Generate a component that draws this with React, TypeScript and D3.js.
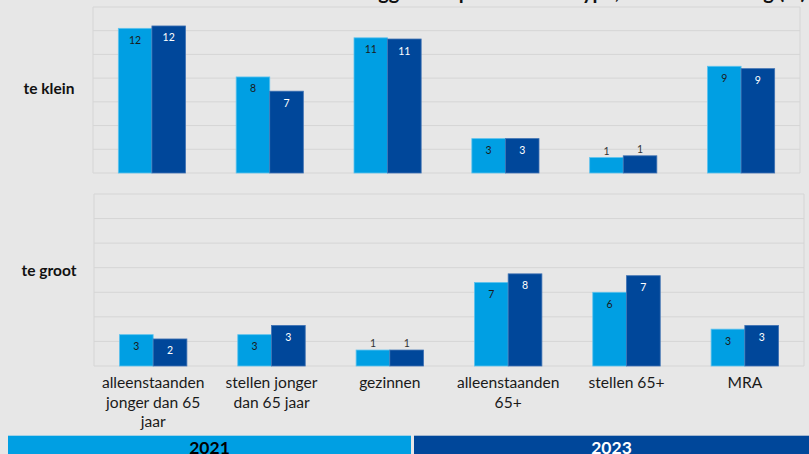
import React from "react";
import * as d3 from "d3";

// ---- data ----
const categories = [
  "alleenstaanden\njonger dan 65\njaar",
  "stellen jonger\ndan 65 jaar",
  "gezinnen",
  "alleenstaanden\n65+",
  "stellen 65+",
  "MRA",
];
const years = ["2021", "2023"];
const teKlein2021 = [12.2, 8.1, 11.4, 2.9, 1.3, 9.0];
const teKlein2023 = [12.4, 6.9, 11.3, 2.9, 1.45, 8.8];
const teGroot2021 = [2.55, 2.55, 1.3, 6.8, 6.0, 3.0];
const teGroot2023 = [2.2, 3.3, 1.3, 7.5, 7.35, 3.3];
const yTicks = [0, 2, 4, 6, 8, 10, 12, 14];
const panelLabels = ["te klein", "te groot"];
const title = "Oordeel over woninggrootte per huishoudtype, naar beoordeling (%)";

const W = 809;
const H = 454;
const LIGHT = "#009FE3";
const DARK = "#00479A";
const BG = "#E7E7E7";
const GRID = "#D5D5D5";
const FONT = "Lato, 'Open Sans', sans-serif";
const colors = [LIGHT, DARK];
const strokes = ["#5EC3EE", "#3F72B3"];

type Panel = {
  label: string;
  s2021: number[];
  s2023: number[];
  x0: number;
  x1: number;
  top: number;
  bottom: number;
  labelY: number;
};

const panels: Panel[] = [
  { label: panelLabels[0], s2021: teKlein2021, s2023: teKlein2023, x0: 93, x1: 800, top: 7, bottom: 173, labelY: 94 },
  { label: panelLabels[1], s2021: teGroot2021, s2023: teGroot2023, x0: 94, x1: 804, top: 194, bottom: 366, labelY: 276 },
];

function PanelView({ p }: { p: Panel }) {
  const x = d3.scaleBand<string>().domain(categories).range([p.x0, p.x1]).padding(0);
  const y = d3.scaleLinear().domain([0, 14]).range([p.bottom, p.top]);
  const pairW = x.bandwidth() * 0.57;
  const xs = d3
    .scaleBand<string>()
    .domain(years)
    .range([(x.bandwidth() - pairW) / 2, (x.bandwidth() + pairW) / 2])
    .padding(0);
  const series = [p.s2021, p.s2023];
  return (
    <g>
      {yTicks.map((t) => (
        <line key={t} x1={p.x0} x2={p.x1} y1={y(t)} y2={y(t)} stroke={GRID} strokeWidth={1} />
      ))}
      <line x1={p.x0} x2={p.x0} y1={p.top} y2={p.bottom} stroke={GRID} />
      <line x1={p.x1} x2={p.x1} y1={p.top} y2={p.bottom} stroke={GRID} />
      {categories.map((c, i) =>
        years.map((yr, k) => {
          const v = series[k][i];
          const bx = (x(c) as number) + (xs(yr) as number);
          const bw = xs.bandwidth();
          const top = y(v);
          const h = y(0) - top;
          const inside = h >= 20;
          return (
            <g key={c + yr}>
              <rect x={bx} y={top} width={bw} height={h} fill={colors[k]} stroke={strokes[k]} strokeWidth={0.8} />
              <text
                x={bx + bw / 2}
                y={inside ? top + 15.5 : top - 3}
                textAnchor="middle"
                fontFamily={FONT}
                fontSize={10.5}
                fill={inside ? (k === 0 ? "#1A1A1A" : "#FFFFFF") : "#333333"}
              >
                {d3.format(".0f")(Math.round(v))}
              </text>
            </g>
          );
        })
      )}
      <text x={49} y={p.labelY} textAnchor="middle" fontFamily={FONT} fontWeight={700} fontSize={15.5} fill="#111">
        {p.label}
      </text>
    </g>
  );
}

export default function App() {
  const bottomPanel = panels[1];
  const xb = d3.scaleBand<string>().domain(categories).range([bottomPanel.x0, bottomPanel.x1]).padding(0);
  const yearBand = d3.scaleBand<string>().domain(years).range([8, 817]).paddingInner(0.0074);
  return (
    <svg
      width={W}
      height={H}
      style={{ position: "absolute", left: 0, top: 0, background: BG, display: "block" }}
    >
      <rect x={0} y={0} width={W} height={H} fill={BG} />
      <text x={806} y={-1} textAnchor="end" fontFamily={FONT} fontWeight={700} fontSize={20} fill="#111">
        {title}
      </text>
      {panels.map((p) => (
        <PanelView key={p.label} p={p} />
      ))}
      {categories.map((c) => (
        <text
          key={c}
          x={(xb(c) as number) + xb.bandwidth() / 2}
          y={388}
          textAnchor="middle"
          fontFamily={FONT}
          fontSize={15.6}
          fill="#1A1A1A"
        >
          {c.split("\n").map((line, j) => (
            <tspan key={j} x={(xb(c) as number) + xb.bandwidth() / 2} dy={j === 0 ? 0 : 19.5}>
              {line}
            </tspan>
          ))}
        </text>
      ))}
      {years.map((yr, k) => (
        <g key={yr}>
          <rect x={yearBand(yr) as number} y={435.7} width={yearBand.bandwidth()} height={H - 435.7} fill={colors[k]} />
          <text
            x={(yearBand(yr) as number) + (k === 0 ? yearBand.bandwidth() / 2 : (W - (yearBand(yr) as number)) / 2)}
            y={453.5}
            textAnchor="middle"
            fontFamily={FONT}
            fontWeight={700}
            fontSize={17.5}
            fill={k === 0 ? "#000" : "#fff"}
          >
            {yr}
          </text>
        </g>
      ))}
    </svg>
  );
}
